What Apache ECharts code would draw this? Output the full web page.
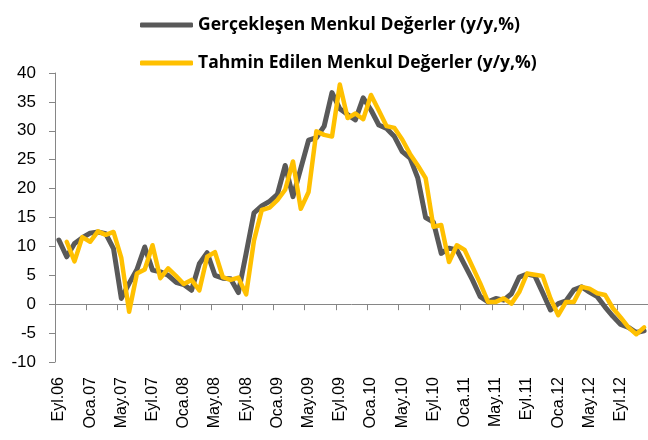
<!DOCTYPE html>
<html>
<head>
<meta charset="utf-8">
<script src="https://cdn.jsdelivr.net/npm/echarts@6/dist/echarts.min.js"></script>
<style>
  html, body { margin: 0; padding: 0; background: #fff; }
  #myChart { width: 648px; height: 440px; }
</style>
</head>
<body>
<div id="myChart"></div>
<script>
// ay etiketleri (Eyl.06 - Ara.12)
const months = [
  'Eyl.06', 'Eki.06', 'Kas.06', 'Ara.06',
  'Oca.07', 'Şub.07', 'Mar.07', 'Nis.07', 'May.07', 'Haz.07', 'Tem.07', 'Ağu.07', 'Eyl.07', 'Eki.07', 'Kas.07', 'Ara.07',
  'Oca.08', 'Şub.08', 'Mar.08', 'Nis.08', 'May.08', 'Haz.08', 'Tem.08', 'Ağu.08', 'Eyl.08', 'Eki.08', 'Kas.08', 'Ara.08',
  'Oca.09', 'Şub.09', 'Mar.09', 'Nis.09', 'May.09', 'Haz.09', 'Tem.09', 'Ağu.09', 'Eyl.09', 'Eki.09', 'Kas.09', 'Ara.09',
  'Oca.10', 'Şub.10', 'Mar.10', 'Nis.10', 'May.10', 'Haz.10', 'Tem.10', 'Ağu.10', 'Eyl.10', 'Eki.10', 'Kas.10', 'Ara.10',
  'Oca.11', 'Şub.11', 'Mar.11', 'Nis.11', 'May.11', 'Haz.11', 'Tem.11', 'Ağu.11', 'Eyl.11', 'Eki.11', 'Kas.11', 'Ara.11',
  'Oca.12', 'Şub.12', 'Mar.12', 'Nis.12', 'May.12', 'Haz.12', 'Tem.12', 'Ağu.12', 'Eyl.12', 'Eki.12', 'Kas.12', 'Ara.12'
];

const seriesNames = ['Gerçekleşen Menkul Değerler (y/y,%)', 'Tahmin Edilen Menkul Değerler (y/y,%)'];

// gerçekleşen
const actual = [
  11.1, 8.2, 10.5, 11.5,
  12.3, 12.5, 12.2, 9.6, 1.0, 3.6, 6.0, 9.9, 5.9, 5.6, 5.0, 3.8,
  3.4, 2.4, 7.0, 8.9, 5.0, 4.5, 4.4, 2.0, 8.8, 15.8, 17.0, 17.8,
  19.0, 24.0, 18.6, 23.5, 28.4, 28.8, 30.8, 36.6, 33.8, 32.8, 31.9, 35.7,
  33.6, 31.0, 30.4, 29.0, 26.4, 25.3, 21.8, 15.0, 14.2, 8.8, 9.7, 9.4,
  6.8, 4.2, 1.3, 0.4, 1.0, 0.7, 1.8, 4.7, 5.2, 4.9, 2.0, -1.0,
  0.1, 0.6, 2.5, 3.0, 2.1, 1.3, -0.5, -2.1, -3.5, -4.0, -4.9, -4.6
];

// tahmin
const forecast = [
  null, 10.8, 7.4, 11.6,
  10.8, 12.6, 12.0, 12.5, 8.0, -1.3, 5.3, 6.0, 10.2, 4.5, 6.2, 4.9,
  3.5, 4.2, 2.4, 8.2, 9.0, 4.7, 4.2, 4.6, 1.7, 11.0, 16.3, 16.7,
  18.0, 19.8, 24.7, 16.5, 19.4, 29.9, 29.3, 29.0, 38.0, 32.2, 33.0, 32.0,
  36.2, 33.5, 30.8, 30.5, 28.5, 26.0, 24.0, 21.8, 13.4, 13.7, 7.3, 10.2,
  9.4, 6.5, 3.6, 0.4, 0.4, 1.0, 0.1, 2.1, 5.3, 5.1, 4.9, 1.0,
  -1.9, 0.4, 0.4, 3.0, 2.7, 1.9, 1.6, -0.7, -2.3, -4.0, -5.2, -4.0
];

const yTicks = { min: -10, max: 40, step: 5 };

let myChart = echarts.init(document.getElementById('myChart'));
const axisGray = '#868686';
const font = 'Liberation Sans';
const legendText = { fontFamily: 'Open Sans', fontWeight: 'bold', fontSize: 17.5, color: '#000' };

myChart.setOption({
  animation: false,
  backgroundColor: '#fff',
  color: ['#595959', '#FFC000'],
  legend: [
    {
      data: [seriesNames[0]],
      left: 135,
      top: 11,
      icon: 'roundRect',
      itemWidth: 53,
      itemHeight: 5,
      textStyle: legendText
    },
    {
      data: [seriesNames[1]],
      left: 135,
      top: 49,
      icon: 'roundRect',
      itemWidth: 53,
      itemHeight: 5,
      textStyle: legendText
    }
  ],
  grid: {
    left: 55,
    right: -8,
    top: 73,
    bottom: 78,
    containLabel: false
  },
  xAxis: [
    {
      type: 'category',
      data: months,
      boundaryGap: true,
      axisLine: { onZero: true, lineStyle: { color: axisGray, width: 1 } },
      axisTick: { show: true, interval: 3, length: 6, lineStyle: { color: axisGray } },
      axisLabel: { show: false },
      splitLine: { show: false }
    },
    {
      type: 'category',
      data: months,
      position: 'bottom',
      boundaryGap: true,
      axisLine: { show: false, onZero: false },
      axisTick: { show: false },
      axisLabel: {
        interval: 3,
        rotate: 90,
        margin: 15,
        fontFamily: font,
        fontSize: 16,
        color: '#000'
      },
      splitLine: { show: false }
    }
  ],
  yAxis: {
    type: 'value',
    min: yTicks.min,
    max: yTicks.max,
    interval: yTicks.step,
    axisLine: { show: true, lineStyle: { color: axisGray, width: 1 } },
    axisTick: { show: true, length: 6, lineStyle: { color: axisGray } },
    axisLabel: { margin: 19, fontFamily: font, fontSize: 17, color: '#000' },
    splitLine: { show: false }
  },
  series: [
    {
      name: seriesNames[0],
      type: 'line',
      xAxisIndex: 0,
      data: actual,
      symbol: 'none',
      lineStyle: { width: 5, color: '#595959', join: 'round', cap: 'round' },
      z: 2
    },
    {
      name: seriesNames[1],
      type: 'line',
      xAxisIndex: 0,
      data: forecast,
      symbol: 'none',
      lineStyle: { width: 4.5, color: '#FFC000', join: 'round', cap: 'round' },
      z: 3
    }
  ]
});
</script>
</body>
</html>
